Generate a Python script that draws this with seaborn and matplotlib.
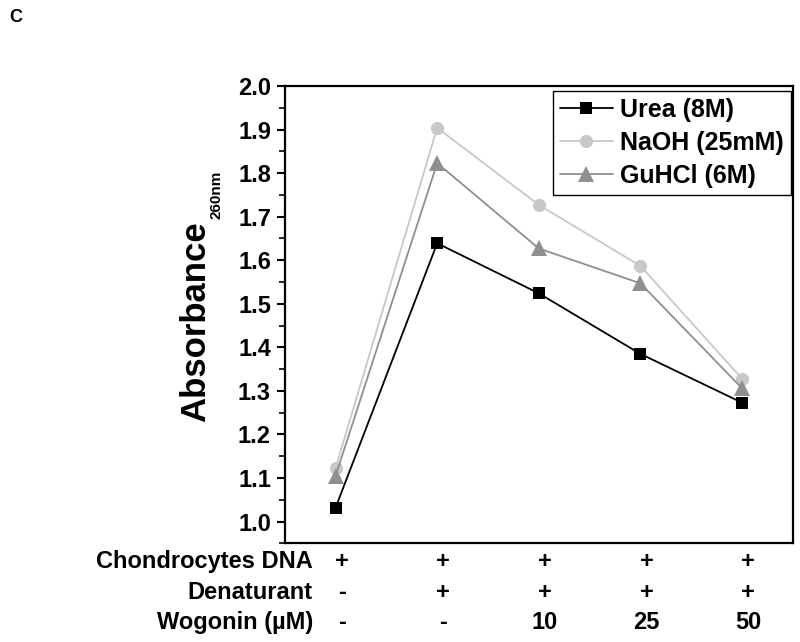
import matplotlib
matplotlib.use("Agg")
import matplotlib.pyplot as plt
import matplotlib.transforms as mtransforms
from matplotlib.ticker import MultipleLocator
import seaborn as sns
import pandas as pd

# values
conditions = [0, 1, 2, 3, 4]
urea = [1.032, 1.639, 1.524, 1.385, 1.273]
naoh = [1.123, 1.904, 1.727, 1.587, 1.328]
guhcl = [1.105, 1.823, 1.627, 1.547, 1.306]
series_names = ['Urea (8M)', 'NaOH (25mM)', 'GuHCl (6M)']

row_labels = ['Chondrocytes DNA', 'Denaturant', 'Wogonin (\u00b5M)']
dna_row = ['+', '+', '+', '+', '+']
denat_row = ['-', '+', '+', '+', '+']
wogonin_row = ['-', '-', '10', '25', '50']

df = pd.DataFrame({
    'x': conditions * 3,
    'Absorbance': urea + naoh + guhcl,
    'Treatment': [series_names[0]] * 5 + [series_names[1]] * 5 + [series_names[2]] * 5,
})

sns.set_theme(style="ticks")
plt.rcParams['font.family'] = ['Liberation Sans', 'DejaVu Sans']
plt.rcParams['font.weight'] = 'bold'
plt.rcParams['text.color'] = 'black'
plt.rcParams['axes.labelcolor'] = 'black'
plt.rcParams['ytick.color'] = 'black'
plt.rcParams['xtick.color'] = 'black'

fig = plt.figure(figsize=(8, 6.42), dpi=100)
ax = fig.add_axes([0.356, 0.1537, 0.635, 0.7123])

colors = {series_names[0]: '#000000', series_names[1]: '#c8c8c8', series_names[2]: '#8f8f8f'}
markers = {series_names[0]: 's', series_names[1]: 'o', series_names[2]: '^'}

sns.lineplot(data=df, x='x', y='Absorbance', hue='Treatment', style='Treatment',
             palette=colors, markers=markers, dashes=False, markersize=9,
             markeredgewidth=0, linewidth=1.3, ax=ax)

# triangles look bigger than the other markers in the original
for ln in ax.lines:
    if ln.get_marker() == '^':
        ln.set_markersize(11.5)
    elif ln.get_marker() == 'o':
        ln.set_markersize(9.5)

ax.set_xlim(-0.5, 4.5)
ax.set_ylim(0.95, 2.0)
ax.yaxis.set_major_locator(MultipleLocator(0.1))
ax.yaxis.set_minor_locator(MultipleLocator(0.05))
ax.set_xticks([])
ax.set_xlabel('')
ax.set_ylabel('Absorbance', fontsize=25, fontweight='bold')
ax.yaxis.set_label_coords(-0.143, 0.485)
ax.tick_params(axis='y', which='major', length=6, width=1.5, labelsize=17, pad=4)
ax.tick_params(axis='y', which='minor', length=4, width=1.2)
for lab in ax.get_yticklabels():
    lab.set_fontweight('bold')
for sp in ax.spines.values():
    sp.set_linewidth(1.6)
    sp.set_color('black')

# subscript of the y label
fig.text(0.271, 0.697, '260nm', rotation=90, fontsize=11, fontweight='bold',
         ha='center', va='center')

handles, labels = ax.get_legend_handles_labels()
leg = ax.legend(handles, labels, loc='upper right', bbox_to_anchor=(0.997, 0.99),
                fontsize=18, frameon=True, fancybox=False, framealpha=1,
                edgecolor='black', handlelength=2.1, handletextpad=0.3,
                borderpad=0.3, labelspacing=0.35, borderaxespad=0.0)
leg.get_frame().set_linewidth(1.0)
for t in leg.get_texts():
    t.set_fontweight('bold')

# condition table under the axis
trans = mtransforms.blended_transform_factory(ax.transData, fig.transFigure)
row_y = [0.125, 0.077, 0.030]
for label, y in zip(row_labels, row_y):
    fig.text(0.391, y, label, ha='right', va='center', fontsize=17, fontweight='bold')
for row, y in zip([dna_row, denat_row, wogonin_row], row_y):
    for xv, s in zip(conditions, row):
        ax.text(xv + 0.06, y, s, transform=trans, ha='center', va='center',
                fontsize=17, fontweight='bold', clip_on=False)

fig.text(0.012, 0.972, 'C', ha='left', va='center', fontsize=13, fontweight='bold')

fig.savefig('out.png', dpi=100)
